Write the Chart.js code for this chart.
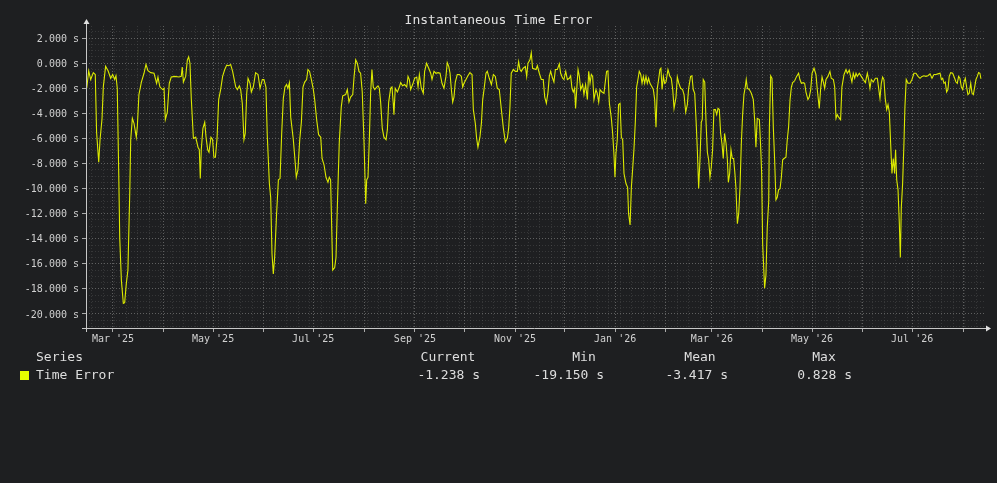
<!DOCTYPE html>
<html>
<head>
<meta charset="utf-8">
<script src="https://cdn.jsdelivr.net/npm/chart.js@4.4.0/dist/chart.umd.min.js"></script>
<style>
html, body { margin: 0; padding: 0; background: #1e1f21; }
.wrap { position: relative; width: 997px; height: 483px; font-family: "DejaVu Sans Mono", monospace; color: #dedede; }
canvas { position: absolute; left: 0; top: 0; }
.txt { position: absolute; font-size: 13px; line-height: 16px; white-space: pre; }
</style>
</head>
<body>
<div class="wrap" id="wrap">
  <canvas id="chart" width="997" height="483"></canvas>
  <div class="txt" style="left:0;width:997px;top:12px;text-align:center;color:#e0e0e0;">Instantaneous Time Error</div>
</div>
<script>
// day offsets counted from 1 Mar 2025
var dayOffsets = [
  -16.0,-14.8,-13.6,-12.0,-10.8,-10.0,-8.7,-7.9,-6.7,-5.9,-4.5,-3.0,-1.4,-0.2,1.0,1.8,2.6,3.5,4.1,5.1,6.3,7.1,8.1,9.1,10.2,10.8,11.8,12.8,14.2,14.8,15.8,17.3,18.9,20.1,21.3,23.0,25.0,26.6,27.4,28.6,30.3,31.1,31.9,33.1,34.3,35.5,37.6,40.2,41.6,42.2,42.9,44.3,45.3,46.1,46.9,47.7,49.0,50.4,51.8,52.6,53.2,53.8,54.8,55.9,56.7,57.7,58.5,59.7,60.7,61.5,62.4,63.4,64.4,65.6,66.8,68.1,69.3,70.5,71.7,72.9,
  74.8,75.8,77.0,77.8,78.8,79.8,80.6,81.5,82.3,83.5,84.3,85.5,86.9,88.4,89.6,91.0,92.0,93.2,94.0,95.3,96.1,96.9,97.7,98.5,99.7,100.8,101.8,102.8,103.8,104.8,105.8,106.6,107.5,108.3,109.9,110.9,111.7,112.7,113.8,114.8,115.8,116.8,118.0,118.8,119.8,120.9,122.1,122.9,124.1,125.3,126.6,127.4,128.6,129.8,131.0,131.8,132.6,133.9,135.1,135.9,136.7,137.9,139.1,140.0,141.8,142.8,143.8,144.8,146.1,146.9,147.9,148.9,149.9,150.9,151.9,153.0,154.0,154.6,155.4,156.2,157.0,157.8,158.6,159.5,160.7,161.5,162.3,163.1,164.1,165.1,166.4,
  167.2,168.0,169.2,170.0,170.8,171.2,172.0,173.3,174.5,175.3,176.5,177.7,179.0,179.8,180.6,181.4,182.6,183.8,185.1,185.9,186.7,187.9,189.1,189.9,191.1,192.4,193.6,194.4,195.6,196.8,198.1,199.3,200.5,201.7,202.9,203.7,204.6,205.4,206.2,207.0,207.8,208.6,209.8,211.1,212.3,213.1,213.9,215.1,216.3,217.5,218.8,219.6,220.8,221.6,222.4,223.6,224.5,225.3,226.1,227.3,228.1,229.3,230.6,231.8,233.0,234.2,235.4,236.6,237.9,239.1,240.3,241.1,241.9,242.7,244.0,245.2,246.4,247.2,248.0,248.8,250.0,251.3,252.1,252.9,254.1,254.9,255.7,
  257.8,258.6,259.8,261.0,262.2,263.1,264.1,265.1,265.9,266.7,267.9,268.7,269.6,270.8,272.0,272.8,274.0,274.8,275.9,276.9,278.1,278.9,279.7,280.5,281.3,281.9,282.6,283.4,284.2,285.0,286.2,287.0,288.0,289.1,289.9,290.7,291.5,292.3,293.1,294.3,295.1,296.0,296.8,298.0,299.2,300.0,300.8,301.6,302.5,303.7,304.5,305.3,305.9,306.5,307.3,308.1,309.0,309.8,310.6,311.4,312.6,313.6,314.2,315.1,315.9,316.7,317.5,318.3,319.1,319.9,320.7,321.6,322.4,323.2,324.0,324.8,325.6,326.4,327.2,328.5,329.3,330.1,330.9,331.7,332.5,333.3,333.9,334.6,335.4,336.2,337.0,338.2,339.4,340.2,341.1,341.9,343.1,343.9,344.7,345.9,347.1,348.0,349.0,350.0,
  350.8,352.0,352.8,353.6,354.5,355.3,356.1,356.9,357.7,358.5,359.1,359.7,360.6,361.4,362.2,363.0,363.8,364.6,365.4,366.2,367.1,367.9,368.7,369.5,370.3,371.1,371.9,372.7,373.6,374.4,375.0,375.8,376.6,377.4,378.2,379.0,379.6,380.5,381.3,382.1,382.9,383.7,384.5,385.3,385.9,386.6,387.8,389.0,390.2,391.0,391.8,392.6,393.9,394.7,395.3,395.9,396.7,397.1,397.9,398.7,399.6,400.0,400.8,401.6,402.4,403.2,404.0,404.8,405.6,406.5,407.3,408.1,408.9,410.1,410.9,411.7,412.6,413.4,414.2,415.4,416.6,417.8,418.6,419.5,420.7,421.5,422.3,423.5,424.3,425.2,426.0,427.2,428.4,429.2,430.4,431.2,432.1,432.9,433.7,434.5,435.7,436.9,437.7,439.0,439.8,440.6,441.4,
  442.2,443.4,444.2,445.5,446.7,447.5,448.7,449.5,450.3,451.1,452.0,452.8,453.6,454.8,456.0,457.2,458.5,459.7,460.5,461.3,462.1,463.3,464.6,465.8,466.6,467.4,468.2,469.0,469.8,470.6,471.5,472.3,473.1,473.9,474.7,475.5,476.3,476.9,477.6,478.4,479.2,479.8,480.4,481.2,482.0,482.6,483.4,484.5,485.7,486.9,488.1,489.3,490.6,491.8,493.0,494.2,495.4,496.6,497.9,499.1,500.3,501.5,502.7,504.0,504.8,505.6,506.4,507.2,508.0,508.8,509.6,510.5,511.7,512.9,513.7,514.5,515.3,516.1,517.0,517.8,518.6,519.4,520.2,521.0,521.8,522.7,523.5,524.3,525.1,525.9,526.7,527.5,528.3,528.9
];

// time error in seconds
var timeErrorSec = [
  -2.0,-0.6,-1.3,-0.75,-0.9,-5.5,-7.9,-6.1,-4.45,-1.9,-0.25,-0.6,-1.2,-0.9,-1.3,-1.0,-2.0,-8.8,-13.9,-17.3,-19.15,-19.1,-17.6,-16.5,-10.4,-6.1,-4.4,-4.8,-5.9,-5.1,-2.5,-1.5,-0.8,-0.1,-0.6,-0.75,-0.8,-1.6,-1.1,-1.9,-2.1,-2.0,-4.5,-3.9,-1.6,-1.1,-1.05,-1.1,-1.05,-0.3,-1.5,-1.05,0.25,0.5,0,-2.8,-6.0,-5.9,-6.7,-6.9,-9.2,-6.9,-5.2,-4.7,-5.9,-6.9,-7.1,-5.9,-6.1,-7.5,-7.5,-6.0,-2.9,-2.1,-1.05,-0.5,-0.15,-0.2,-0.1,-0.65,
  -1.9,-2.1,-1.8,-2.1,-3.2,-6.1,-5.6,-2.4,-1.2,-1.6,-2.3,-1.9,-0.75,-0.9,-2.0,-1.3,-1.3,-1.9,-5.7,-9.6,-10.7,-15.2,-16.8,-15.5,-12.0,-9.3,-9.2,-5.6,-2.8,-1.9,-1.7,-2.0,-1.55,-4.3,-6.1,-7.7,-9.1,-8.5,-6.1,-4.7,-1.9,-1.5,-1.3,-0.5,-0.65,-1.3,-2.1,-2.9,-4.5,-5.7,-5.9,-7.6,-8.1,-9.1,-9.5,-9.1,-9.3,-16.5,-16.3,-15.5,-11.5,-6.3,-3.5,-2.6,-2.5,-2.1,-3.1,-2.7,-2.5,-1.1,0.27,0,-0.65,-0.8,-2.3,-6.4,-11.2,-9.3,-9.1,-6.1,-2.4,-0.5,-1.9,-2.1,-1.9,-1.8,-2.0,-3.1,-5.2,-5.9,-6.1,
  -5.3,-3.1,-2.0,-1.9,-3.2,-4.1,-2.0,-2.3,-1.9,-1.55,-1.8,-1.7,-1.9,-1.05,-1.3,-2.1,-1.7,-1.2,-1.1,-1.9,-0.9,-2.0,-2.4,-0.65,0,-0.4,-0.8,-1.3,-0.65,-0.8,-0.75,-0.8,-1.6,-2.0,-1.05,0.05,-0.25,-0.8,-2.1,-3.1,-2.7,-1.5,-0.9,-0.9,-1.05,-1.9,-1.6,-1.3,-1.0,-0.75,-0.9,-3.7,-4.8,-6.0,-6.7,-5.9,-4.8,-2.9,-2.1,-0.8,-0.65,-1.2,-1.7,-0.9,-1.05,-2.0,-2.1,-3.6,-5.2,-6.3,-6.0,-5.2,-3.5,-0.8,-0.5,-0.65,-0.65,0.13,-0.5,-0.65,-0.4,-0.27,-1.05,0,0.27,0.828,-0.4,
  -0.5,-0.2,-0.8,-1.3,-1.3,-2.7,-3.2,-2.3,-1.05,-0.65,-1.2,-1.5,-0.5,-0.5,-0.05,-0.8,-1.2,-1.3,-0.65,-1.3,-1.2,-1.0,-2.0,-2.3,-2.0,-3.6,-2.1,-0.5,-1.05,-2.1,-1.7,-2.5,-1.7,-2.9,-0.65,-1.6,-0.9,-1.05,-2.9,-2.1,-2.4,-3.1,-2.1,-2.3,-2.4,-1.5,-0.65,-0.6,-3.2,-4.4,-5.6,-7.3,-9.1,-7.2,-6.1,-3.3,-3.2,-5.9,-6.1,-8.8,-9.6,-9.9,-12.0,-12.9,-9.9,-8.4,-6.8,-4.7,-1.9,-1.3,-0.65,-0.9,-1.6,-1.05,-1.6,-1.05,-1.6,-1.2,-1.6,-1.9,-2.1,-2.9,-5.1,-2.0,-1.3,-0.5,-0.4,-2.1,-1.05,-1.6,-1.5,-0.5,-1.05,-1.2,-2.1,-3.6,-2.7,-1.1,-1.55,-2.0,-2.1,-2.5,-3.9,-3.3,
  -2.0,-1.05,-1.0,-2.1,-2.4,-4.5,-6.9,-10.0,-7.7,-4.7,-4.5,-1.3,-1.5,-4.7,-7.1,-7.7,-9.1,-8.3,-6.9,-3.7,-3.7,-4.1,-3.6,-3.7,-5.6,-6.4,-7.6,-5.6,-6.4,-7.7,-9.5,-8.8,-6.9,-7.6,-7.6,-8.8,-9.9,-12.8,-12.0,-9.9,-6.4,-4.1,-2.5,-1.9,-1.3,-2.0,-2.1,-2.4,-2.9,-4.5,-6.7,-4.4,-4.5,-6.7,-8.8,-14.4,-16.8,-17.95,-16.9,-13.1,-11.0,-5.1,-1.0,-1.2,-5.1,-7.7,-10.9,-10.7,-10.1,-10.0,-9.1,-7.7,-7.6,-7.5,-6.1,-5.1,-2.9,-1.9,-1.55,-1.4,-1.05,-0.8,-1.3,-1.6,-1.55,-1.6,-2.3,-2.9,-2.7,-2.1,-0.8,-0.4,-0.9,-2.1,-3.6,-2.1,-1.1,-1.5,-2.0,-1.3,-1.05,-0.65,-1.2,-1.3,-1.9,-4.4,-4.1,
  -4.3,-4.5,-1.9,-0.9,-0.5,-0.8,-0.55,-1.05,-1.5,-0.8,-1.2,-0.8,-1.05,-0.8,-1.05,-1.3,-1.55,-0.8,-1.3,-2.0,-1.3,-1.5,-1.2,-1.2,-2.0,-2.8,-1.6,-1.1,-1.3,-2.8,-3.7,-3.3,-3.9,-6.4,-8.8,-7.6,-8.8,-6.9,-9.3,-10.1,-12.8,-15.5,-11.5,-9.6,-6.4,-3.5,-1.3,-1.6,-1.6,-1.3,-0.8,-0.8,-1.05,-1.2,-1.05,-1.0,-1.05,-1.0,-0.85,-1.2,-0.9,-0.9,-0.85,-0.8,-1.3,-1.2,-1.6,-1.5,-2.3,-2.1,-1.05,-0.75,-0.8,-1.2,-1.5,-1.6,-1.05,-1.2,-1.9,-2.1,-1.5,-1.2,-1.9,-2.5,-2.4,-1.6,-2.4,-2.5,-1.9,-1.3,-1.05,-0.75,-0.8,-1.238
];

// month starts (days from 1 Mar 2025) and their labels
var monthStarts = [0, 31, 61, 92, 122, 153, 184, 214, 245, 275, 306, 337, 365, 396, 426, 457, 487, 518];
var monthLabels = ["Mar '25", "Apr '25", "May '25", "Jun '25", "Jul '25", "Aug '25", "Sep '25", "Oct '25", "Nov '25",
                   "Dec '25", "Jan '26", "Feb '26", "Mar '26", "Apr '26", "May '26", "Jun '26", "Jul '26", "Aug '26"];
var yMajorTicks = [-20, -18, -16, -14, -12, -10, -8, -6, -4, -2, 0, 2];

var seriesName = 'Time Error';
var statHeaders = ['Current', 'Min', 'Mean', 'Max'];
var statValues = ['-1.238 s', '-19.150 s', '-3.417 s', '0.828 s'];

var lineColor = '#dcea00';
var majorGrid = 'rgba(150,150,150,0.55)';
var minorGrid = 'rgba(120,120,120,0.28)';

// legend block under the chart
var wrap = document.getElementById('wrap');
function addText(txt, css) {
    var d = document.createElement('div');
    d.className = 'txt';
    d.textContent = txt;
    d.style.cssText += css;
    wrap.appendChild(d);
}
addText('Series', 'left:36px;top:349px;');
addText(seriesName, 'left:36px;top:367px;');
var sq = document.createElement('div');
sq.style.cssText = 'position:absolute;left:20px;top:371px;width:9px;height:9px;background:#e6ff00;';
wrap.appendChild(sq);
var headCenters = [448, 584, 700, 824];
var valueRights = [480, 604, 728, 852];
statHeaders.forEach(function (h, i) {
    addText(h, 'left:' + (headCenters[i] - 60) + 'px;width:120px;text-align:center;top:349px;');
    addText(statValues[i], 'left:' + (valueRights[i] - 120) + 'px;width:120px;text-align:right;top:367px;');
});

var points = [];
var n = Math.min(dayOffsets.length, timeErrorSec.length);
for (var i = 0; i < n; i++) points.push({ x: dayOffsets[i], y: timeErrorSec[i] });

var axisArrows = {
    id: 'axisArrows',
    afterDatasetsDraw: function (chart) {
        var c = chart.ctx, a = chart.chartArea;
        c.save();
        c.strokeStyle = '#c8c8c8';
        c.fillStyle = '#e0e0e0';
        c.lineWidth = 1;
        c.beginPath();
        c.moveTo(a.left - 4, a.bottom + 0.5);
        c.lineTo(a.right + 2, a.bottom + 0.5);
        c.moveTo(a.left + 0.5, a.bottom + 4);
        c.lineTo(a.left + 0.5, a.top - 3);
        c.stroke();
        c.beginPath();
        c.moveTo(a.right + 6, a.bottom + 0.5);
        c.lineTo(a.right + 1, a.bottom - 2.5);
        c.lineTo(a.right + 1, a.bottom + 3.5);
        c.fill();
        c.beginPath();
        c.moveTo(a.left + 0.5, a.top - 7);
        c.lineTo(a.left - 2.5, a.top - 2);
        c.lineTo(a.left + 3.5, a.top - 2);
        c.fill();
        c.restore();
    }
};

var ctx = document.getElementById('chart').getContext('2d');
new Chart(ctx, {
    type: 'line',
    data: {
        datasets: [{
            label: seriesName,
            data: points,
            borderColor: lineColor,
            borderWidth: 1.1,
            pointRadius: 0,
            tension: 0,
            fill: false
        }]
    },
    options: {
        responsive: false,
        animation: false,
        layout: { padding: { top: 26, right: 12, left: 0, bottom: 0 } },
        plugins: { legend: { display: false }, tooltip: { enabled: false } },
        scales: {
            x: {
                type: 'linear',
                min: -16.45,
                max: 531.4,
                afterFit: function (s) { s.height = 155; },
                afterBuildTicks: function (s) {
                    var t = monthStarts.map(function (d) { return { value: d, major: true }; });
                    for (var d = -13; d < 531; d += 7) {
                        if (monthStarts.indexOf(d) < 0) t.push({ value: d, major: false });
                    }
                    t.sort(function (p, q) { return p.value - q.value; });
                    s.ticks = t;
                },
                ticks: {
                    autoSkip: false,
                    maxRotation: 0,
                    padding: 1,
                    color: '#d0d0d0',
                    font: { family: 'DejaVu Sans Mono', size: 10 },
                    callback: function (v) {
                        var k = monthStarts.indexOf(v);
                        return (k >= 0 && k % 2 === 0) ? monthLabels[k] : '';
                    }
                },
                grid: {
                    color: function (c) { return c.tick && c.tick.major ? majorGrid : minorGrid; },
                    tickColor: function (c) { return c.tick && c.tick.major ? '#aaaaaa' : 'rgba(0,0,0,0)'; },
                    tickLength: 4
                },
                border: { display: false, dash: [1, 2] }
            },
            y: {
                min: -21.12,
                max: 2.97,
                afterFit: function (s) { s.width = 86; },
                afterBuildTicks: function (s) {
                    var t = [];
                    for (var v = -21; v <= 2.9; v += 0.5) {
                        t.push({ value: v, major: yMajorTicks.indexOf(v) >= 0 });
                    }
                    s.ticks = t;
                },
                ticks: {
                    autoSkip: false,
                    padding: 3,
                    labelOffset: 1,
                    color: '#d0d0d0',
                    font: { family: 'DejaVu Sans Mono', size: 10 },
                    callback: function (v) {
                        return yMajorTicks.indexOf(v) >= 0 ? v.toFixed(3) + ' s' : '';
                    }
                },
                grid: {
                    color: function (c) { return c.tick && c.tick.major ? majorGrid : minorGrid; },
                    tickColor: function (c) { return c.tick && c.tick.major ? '#aaaaaa' : 'rgba(0,0,0,0)'; },
                    tickLength: 4
                },
                border: { display: false, dash: [1, 2] }
            }
        }
    },
    plugins: [axisArrows]
});
</script>
</body>
</html>
